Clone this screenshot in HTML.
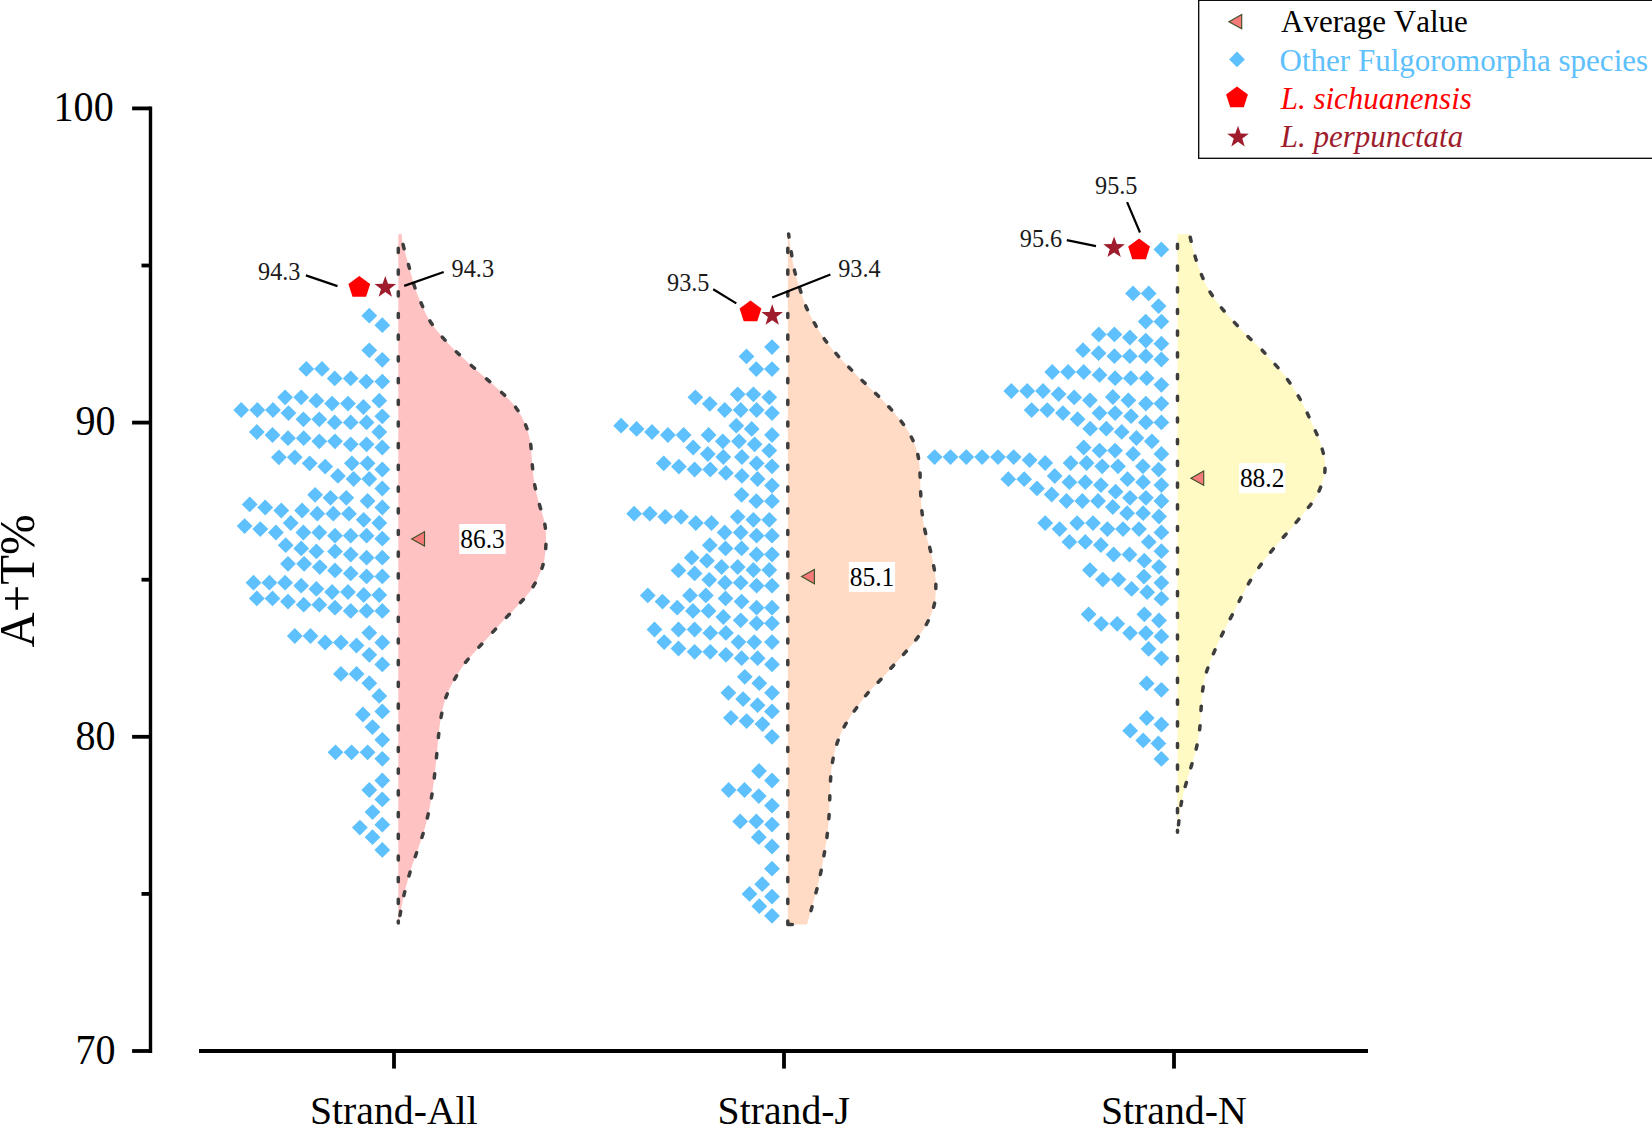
<!DOCTYPE html>
<html lang="en"><head><meta charset="utf-8"><title>A+T% content by strand</title>
<style>html,body{margin:0;padding:0;background:#fff}body{width:1652px;height:1124px;overflow:hidden}svg{display:block}text{font-family:'Liberation Serif', serif;font-kerning:none}</style>
</head><body>
<svg width="1652" height="1124" viewBox="0 0 1652 1124">
<rect width="1652" height="1124" fill="#fff"/>
<path d="M401.9 234.3C402 235.8 401.5 237.8 402.7 243.1C403.9 248.4 406.9 258.9 408.9 266.2C410.9 273.5 412.6 280.8 414.7 287C416.8 293.2 418.8 297.8 421.2 303.2C423.6 308.6 425.8 314.1 429 319.4C432.2 324.7 436.4 330 440.6 335.1C444.9 340.2 449.6 345.2 454.5 350C459.4 354.8 464.6 359.4 469.7 364C474.8 368.6 480.1 373.2 485.2 377.7C490.3 382.2 495.3 386.4 500.2 391.1C505.1 395.8 510.7 400.7 514.8 406.1C518.9 411.5 522.4 417.5 525 423.5C527.6 429.5 529.1 435.4 530.3 442C531.5 448.6 531.4 456 532.1 463C532.8 470 533.3 476.9 534.5 483.9C535.7 490.8 537.9 498.5 539.5 504.7C541.1 510.9 543.1 515.5 544.2 520.9C545.3 526.3 545.9 530.9 546 537.1C546.1 543.3 545.8 551.5 544.6 557.9C543.5 564.3 541.7 569.5 539.1 575.3C536.5 581.1 532.9 587.3 529.1 592.6C525.3 597.9 520.8 602.1 516.4 606.9C512 611.7 506.9 616.8 502.5 621.5C498.1 626.2 494.2 630.6 489.8 635.4C485.4 640.2 480.4 645.4 476 650.4C471.6 655.4 467.1 660 463.2 665.4C459.3 670.8 455.7 677.1 452.8 682.6C449.9 688.1 447.5 692.7 445.6 698.2C443.7 703.7 442.5 709.8 441.3 715.8C440.1 721.8 439.4 728.1 438.7 734.3C438 740.5 437.5 746.6 436.9 752.8C436.3 759 435.7 765.3 435 771.3C434.3 777.3 433.8 782.9 432.9 788.7C432 794.5 431 800.2 429.9 806C428.8 811.8 427.4 817.8 426 823.4C424.6 829 423 834 421.2 839.5C419.4 845 417.2 850.8 415.4 856.2C413.5 861.6 411.8 866.4 410.1 871.9C408.4 877.4 406.8 883.8 405.4 889.2C404 894.6 403.2 898.4 402 904.3C400.8 910.2 399 921.1 398.4 924.5L398.3 924.5L398.3 234.3Z" fill="#ffc2c2"/>
<path d="M788.6 234C789 237.1 790.3 246.5 791.3 252.4C792.2 258.4 792.9 263.9 794.3 269.7C795.6 275.5 797.6 281.3 799.4 287.1C801.2 292.9 802.8 298.8 805.1 304.4C807.4 310 810.1 315.4 813.2 321C816.3 326.6 819.8 332.5 823.6 337.9C827.4 343.3 831.6 348.5 835.9 353.4C840.1 358.3 844.6 362.9 849.1 367.5C853.6 372.1 858.3 376.7 862.9 381.2C867.5 385.7 872.2 390 876.8 394.6C881.4 399.2 886.2 403.9 890.7 408.9C895.2 413.9 899.9 419.4 903.6 424.6C907.3 429.9 910.7 435.5 913 440.4C915.3 445.2 916.5 449 917.6 453.7C918.7 458.4 919.2 463 919.7 468.8C920.2 474.6 920.2 481.8 920.5 488.6C920.8 495.4 921 502.5 921.7 509.4C922.4 516.3 923.5 523.7 924.9 530.2C926.3 536.8 928.5 542.7 930 548.7C931.5 554.7 932.7 560.4 933.7 566C934.7 571.6 935.6 576 935.8 582.2C935.9 588.4 935.9 596.5 934.6 603C933.3 609.5 930.8 615.7 927.9 621.5C925 627.3 921.4 632.4 917.5 637.7C913.6 643 909 648.2 904.6 653.2C900.2 658.2 895.7 663 891.4 667.7C887.1 672.5 882.5 677.7 878.7 681.7C874.9 685.8 872.4 687.7 868.7 692C865 696.3 860.5 702.4 856.7 707.7C852.9 713 848.9 718.5 845.8 723.9C842.7 729.3 840.2 734.7 838.2 740.1C836.2 745.5 834.8 750.7 833.6 756.3C832.4 761.9 831.6 767.2 831 773.6C830.4 780 830.2 787.4 829.9 794.5C829.6 801.6 829.5 809.3 829 816.4C828.5 823.5 827.7 831 826.9 837.2C826.1 843.4 825.3 847.6 824.3 853.4C823.3 859.2 822.2 865.8 820.9 871.9C819.6 878 818.2 884.1 816.7 889.9C815.2 895.7 813.7 900.8 812.1 906.6C810.5 912.4 807.9 921.6 807 924.6L787.8 924.6L787.8 234Z" fill="#ffdac5"/>
<path d="M1190 234.3C1190.1 235 1189.7 235.1 1190.5 238.5C1191.3 241.9 1192.9 249.1 1194.6 254.7C1196.2 260.3 1198.2 266.4 1200.4 272C1202.6 277.6 1204.8 282.8 1207.8 288.2C1210.8 293.6 1214.7 299.1 1218.7 304.4C1222.8 309.7 1227.4 314.7 1232.1 319.9C1236.8 325.1 1242.3 330.8 1247.1 335.6C1251.9 340.5 1257.3 345.3 1261 349C1264.7 352.7 1265.5 354.1 1269.1 358C1272.6 361.9 1278.2 367.5 1282.3 372.6C1286.4 377.7 1290.3 383.4 1293.8 388.8C1297.3 394.2 1300.4 399.5 1303.3 405C1306.2 410.5 1308.6 416.1 1311.2 421.8C1313.8 427.6 1316.8 433.7 1319 439.5C1321.2 445.3 1323.1 452.1 1324.1 456.6C1325.1 461.1 1325 463.2 1325 466.6C1325 470 1325.2 472 1323.9 476.8C1322.6 481.6 1320.1 489.7 1316.9 495.5C1313.7 501.3 1309.1 506.3 1304.9 511.7C1300.7 517.1 1296 522.6 1291.5 527.9C1287 533.2 1282.3 538.2 1277.9 543.4C1273.5 548.6 1269.1 553.9 1265.1 559.1C1261.1 564.3 1257.6 569 1254 574.6C1250.4 580.2 1246.8 586.7 1243.6 592.6C1240.4 598.5 1237.8 604.3 1234.9 609.9C1232 615.5 1229 620.7 1226.3 626.1C1223.5 631.5 1220.9 636.8 1218.4 642.3C1215.9 647.8 1213.4 653.6 1211.3 659C1209.2 664.4 1207.2 669.2 1205.7 674.5C1204.2 679.8 1203.4 685 1202.6 690.7C1201.8 696.4 1201.5 702.5 1201.1 708.6C1200.6 714.7 1200.6 720.8 1199.9 727.1C1199.2 733.5 1198 740.7 1196.7 746.7C1195.4 752.8 1193.7 757.8 1192.1 763.4C1190.5 769 1188.6 774.5 1187 780.2C1185.4 785.9 1183.6 791.9 1182.4 797.6C1181.2 803.3 1180.4 808.1 1179.6 814.5C1178.8 820.9 1177.8 832.2 1177.5 835.7L1177.5 835.7L1177.5 234.3Z" fill="#fff9c4"/>
<path d="M398.3 923.1L398.3 243.3" fill="none" stroke="#3d3d3d" stroke-width="3.5" stroke-linecap="round" stroke-dasharray="4.2 17.5" stroke-dashoffset="2.1"/>
<path d="M401.9 234.3C402 235.8 401.5 237.8 402.7 243.1C403.9 248.4 406.9 258.9 408.9 266.2C410.9 273.5 412.6 280.8 414.7 287C416.8 293.2 418.8 297.8 421.2 303.2C423.6 308.6 425.8 314.1 429 319.4C432.2 324.7 436.4 330 440.6 335.1C444.9 340.2 449.6 345.2 454.5 350C459.4 354.8 464.6 359.4 469.7 364C474.8 368.6 480.1 373.2 485.2 377.7C490.3 382.2 495.3 386.4 500.2 391.1C505.1 395.8 510.7 400.7 514.8 406.1C518.9 411.5 522.4 417.5 525 423.5C527.6 429.5 529.1 435.4 530.3 442C531.5 448.6 531.4 456 532.1 463C532.8 470 533.3 476.9 534.5 483.9C535.7 490.8 537.9 498.5 539.5 504.7C541.1 510.9 543.1 515.5 544.2 520.9C545.3 526.3 545.9 530.9 546 537.1C546.1 543.3 545.8 551.5 544.6 557.9C543.5 564.3 541.7 569.5 539.1 575.3C536.5 581.1 532.9 587.3 529.1 592.6C525.3 597.9 520.8 602.1 516.4 606.9C512 611.7 506.9 616.8 502.5 621.5C498.1 626.2 494.2 630.6 489.8 635.4C485.4 640.2 480.4 645.4 476 650.4C471.6 655.4 467.1 660 463.2 665.4C459.3 670.8 455.7 677.1 452.8 682.6C449.9 688.1 447.5 692.7 445.6 698.2C443.7 703.7 442.5 709.8 441.3 715.8C440.1 721.8 439.4 728.1 438.7 734.3C438 740.5 437.5 746.6 436.9 752.8C436.3 759 435.7 765.3 435 771.3C434.3 777.3 433.8 782.9 432.9 788.7C432 794.5 431 800.2 429.9 806C428.8 811.8 427.4 817.8 426 823.4C424.6 829 423 834 421.2 839.5C419.4 845 417.2 850.8 415.4 856.2C413.5 861.6 411.8 866.4 410.1 871.9C408.4 877.4 406.8 883.8 405.4 889.2C404 894.6 403.2 898.4 402 904.3C400.8 910.2 399 921.1 398.4 924.5" fill="none" stroke="#3d3d3d" stroke-width="3.5" stroke-linecap="round" stroke-dasharray="4.2 16.1" stroke-dashoffset="-10.5"/>
<path d="M787.8 923.1L787.8 243" fill="none" stroke="#3d3d3d" stroke-width="3.5" stroke-linecap="round" stroke-dasharray="4.2 17.5" stroke-dashoffset="2.1"/>
<path d="M788.6 234C789 237.1 790.3 246.5 791.3 252.4C792.2 258.4 792.9 263.9 794.3 269.7C795.6 275.5 797.6 281.3 799.4 287.1C801.2 292.9 802.8 298.8 805.1 304.4C807.4 310 810.1 315.4 813.2 321C816.3 326.6 819.8 332.5 823.6 337.9C827.4 343.3 831.6 348.5 835.9 353.4C840.1 358.3 844.6 362.9 849.1 367.5C853.6 372.1 858.3 376.7 862.9 381.2C867.5 385.7 872.2 390 876.8 394.6C881.4 399.2 886.2 403.9 890.7 408.9C895.2 413.9 899.9 419.4 903.6 424.6C907.3 429.9 910.7 435.5 913 440.4C915.3 445.2 916.5 449 917.6 453.7C918.7 458.4 919.2 463 919.7 468.8C920.2 474.6 920.2 481.8 920.5 488.6C920.8 495.4 921 502.5 921.7 509.4C922.4 516.3 923.5 523.7 924.9 530.2C926.3 536.8 928.5 542.7 930 548.7C931.5 554.7 932.7 560.4 933.7 566C934.7 571.6 935.6 576 935.8 582.2C935.9 588.4 935.9 596.5 934.6 603C933.3 609.5 930.8 615.7 927.9 621.5C925 627.3 921.4 632.4 917.5 637.7C913.6 643 909 648.2 904.6 653.2C900.2 658.2 895.7 663 891.4 667.7C887.1 672.5 882.5 677.7 878.7 681.7C874.9 685.8 872.4 687.7 868.7 692C865 696.3 860.5 702.4 856.7 707.7C852.9 713 848.9 718.5 845.8 723.9C842.7 729.3 840.2 734.7 838.2 740.1C836.2 745.5 834.8 750.7 833.6 756.3C832.4 761.9 831.6 767.2 831 773.6C830.4 780 830.2 787.4 829.9 794.5C829.6 801.6 829.5 809.3 829 816.4C828.5 823.5 827.7 831 826.9 837.2C826.1 843.4 825.3 847.6 824.3 853.4C823.3 859.2 822.2 865.8 820.9 871.9C819.6 878 818.2 884.1 816.7 889.9C815.2 895.7 813.7 900.8 812.1 906.6C810.5 912.4 807.9 921.6 807 924.6" fill="none" stroke="#3d3d3d" stroke-width="3.5" stroke-linecap="round" stroke-dasharray="4.2 14.6" stroke-dashoffset="1"/>
<path d="M1177.5 832.3L1177.5 243.3" fill="none" stroke="#3d3d3d" stroke-width="3.5" stroke-linecap="round" stroke-dasharray="4.2 17.5" stroke-dashoffset="2.1"/>
<path d="M1190 234.3C1190.1 235 1189.7 235.1 1190.5 238.5C1191.3 241.9 1192.9 249.1 1194.6 254.7C1196.2 260.3 1198.2 266.4 1200.4 272C1202.6 277.6 1204.8 282.8 1207.8 288.2C1210.8 293.6 1214.7 299.1 1218.7 304.4C1222.8 309.7 1227.4 314.7 1232.1 319.9C1236.8 325.1 1242.3 330.8 1247.1 335.6C1251.9 340.5 1257.3 345.3 1261 349C1264.7 352.7 1265.5 354.1 1269.1 358C1272.6 361.9 1278.2 367.5 1282.3 372.6C1286.4 377.7 1290.3 383.4 1293.8 388.8C1297.3 394.2 1300.4 399.5 1303.3 405C1306.2 410.5 1308.6 416.1 1311.2 421.8C1313.8 427.6 1316.8 433.7 1319 439.5C1321.2 445.3 1323.1 452.1 1324.1 456.6C1325.1 461.1 1325 463.2 1325 466.6C1325 470 1325.2 472 1323.9 476.8C1322.6 481.6 1320.1 489.7 1316.9 495.5C1313.7 501.3 1309.1 506.3 1304.9 511.7C1300.7 517.1 1296 522.6 1291.5 527.9C1287 533.2 1282.3 538.2 1277.9 543.4C1273.5 548.6 1269.1 553.9 1265.1 559.1C1261.1 564.3 1257.6 569 1254 574.6C1250.4 580.2 1246.8 586.7 1243.6 592.6C1240.4 598.5 1237.8 604.3 1234.9 609.9C1232 615.5 1229 620.7 1226.3 626.1C1223.5 631.5 1220.9 636.8 1218.4 642.3C1215.9 647.8 1213.4 653.6 1211.3 659C1209.2 664.4 1207.2 669.2 1205.7 674.5C1204.2 679.8 1203.4 685 1202.6 690.7C1201.8 696.4 1201.5 702.5 1201.1 708.6C1200.6 714.7 1200.6 720.8 1199.9 727.1C1199.2 733.5 1198 740.7 1196.7 746.7C1195.4 752.8 1193.7 757.8 1192.1 763.4C1190.5 769 1188.6 774.5 1187 780.2C1185.4 785.9 1183.6 791.9 1182.4 797.6C1181.2 803.3 1180.4 808.1 1179.6 814.5C1178.8 820.9 1177.8 832.2 1177.5 835.7" fill="none" stroke="#3d3d3d" stroke-width="3.5" stroke-linecap="round" stroke-dasharray="4.2 15.3" stroke-dashoffset="-3"/>
<path d="M787.8 924.6h4.5" fill="none" stroke="#3d3d3d" stroke-width="3.5" stroke-linecap="round"/>
<path d="M369.3 307.8l7.9 7.9l-7.9 7.9l-7.9 -7.9zM382.3 317.3l7.9 7.9l-7.9 7.9l-7.9 -7.9zM369.3 342.4l7.9 7.9l-7.9 7.9l-7.9 -7.9zM382.3 351.9l7.9 7.9l-7.9 7.9l-7.9 -7.9zM306.3 361l7.9 7.9l-7.9 7.9l-7.9 -7.9zM322 361l7.9 7.9l-7.9 7.9l-7.9 -7.9zM334.7 370.5l7.9 7.9l-7.9 7.9l-7.9 -7.9zM350.7 370.5l7.9 7.9l-7.9 7.9l-7.9 -7.9zM366.3 373.7l7.9 7.9l-7.9 7.9l-7.9 -7.9zM382.3 373.7l7.9 7.9l-7.9 7.9l-7.9 -7.9zM285.1 389.4l7.9 7.9l-7.9 7.9l-7.9 -7.9zM301.2 389.4l7.9 7.9l-7.9 7.9l-7.9 -7.9zM316.4 392.8l7.9 7.9l-7.9 7.9l-7.9 -7.9zM332.1 395.7l7.9 7.9l-7.9 7.9l-7.9 -7.9zM348 395.7l7.9 7.9l-7.9 7.9l-7.9 -7.9zM363.4 399.1l7.9 7.9l-7.9 7.9l-7.9 -7.9zM379.3 392.8l7.9 7.9l-7.9 7.9l-7.9 -7.9zM241.2 402.1l7.9 7.9l-7.9 7.9l-7.9 -7.9zM257.3 402.1l7.9 7.9l-7.9 7.9l-7.9 -7.9zM273 402.1l7.9 7.9l-7.9 7.9l-7.9 -7.9zM288.5 405.2l7.9 7.9l-7.9 7.9l-7.9 -7.9zM303.4 411.4l7.9 7.9l-7.9 7.9l-7.9 -7.9zM319.3 411.4l7.9 7.9l-7.9 7.9l-7.9 -7.9zM334.7 414.5l7.9 7.9l-7.9 7.9l-7.9 -7.9zM350.7 414.5l7.9 7.9l-7.9 7.9l-7.9 -7.9zM366.6 414.5l7.9 7.9l-7.9 7.9l-7.9 -7.9zM382.3 408.4l7.9 7.9l-7.9 7.9l-7.9 -7.9zM256.8 424.1l7.9 7.9l-7.9 7.9l-7.9 -7.9zM272.5 427.1l7.9 7.9l-7.9 7.9l-7.9 -7.9zM288 430.3l7.9 7.9l-7.9 7.9l-7.9 -7.9zM303.7 430.3l7.9 7.9l-7.9 7.9l-7.9 -7.9zM319.3 433.4l7.9 7.9l-7.9 7.9l-7.9 -7.9zM335 433.4l7.9 7.9l-7.9 7.9l-7.9 -7.9zM350.7 436.4l7.9 7.9l-7.9 7.9l-7.9 -7.9zM366.6 436.4l7.9 7.9l-7.9 7.9l-7.9 -7.9zM379.3 424.1l7.9 7.9l-7.9 7.9l-7.9 -7.9zM382.3 439.6l7.9 7.9l-7.9 7.9l-7.9 -7.9zM278.9 449.4l7.9 7.9l-7.9 7.9l-7.9 -7.9zM294.8 449.4l7.9 7.9l-7.9 7.9l-7.9 -7.9zM309.7 455.4l7.9 7.9l-7.9 7.9l-7.9 -7.9zM325.2 458.7l7.9 7.9l-7.9 7.9l-7.9 -7.9zM351.9 455.4l7.9 7.9l-7.9 7.9l-7.9 -7.9zM367.6 455.4l7.9 7.9l-7.9 7.9l-7.9 -7.9zM382.3 461.6l7.9 7.9l-7.9 7.9l-7.9 -7.9zM337.9 468l7.9 7.9l-7.9 7.9l-7.9 -7.9zM353.6 471.1l7.9 7.9l-7.9 7.9l-7.9 -7.9zM369.3 471.1l7.9 7.9l-7.9 7.9l-7.9 -7.9zM382.3 480.6l7.9 7.9l-7.9 7.9l-7.9 -7.9zM315.1 486.9l7.9 7.9l-7.9 7.9l-7.9 -7.9zM330.5 489.9l7.9 7.9l-7.9 7.9l-7.9 -7.9zM346.3 489.9l7.9 7.9l-7.9 7.9l-7.9 -7.9zM367.6 493.1l7.9 7.9l-7.9 7.9l-7.9 -7.9zM382.3 499.6l7.9 7.9l-7.9 7.9l-7.9 -7.9zM249.7 496.5l7.9 7.9l-7.9 7.9l-7.9 -7.9zM265.2 499.6l7.9 7.9l-7.9 7.9l-7.9 -7.9zM281.3 502.6l7.9 7.9l-7.9 7.9l-7.9 -7.9zM302.1 502.6l7.9 7.9l-7.9 7.9l-7.9 -7.9zM317.3 505.8l7.9 7.9l-7.9 7.9l-7.9 -7.9zM333.3 505.8l7.9 7.9l-7.9 7.9l-7.9 -7.9zM349 505.8l7.9 7.9l-7.9 7.9l-7.9 -7.9zM363.7 511.9l7.9 7.9l-7.9 7.9l-7.9 -7.9zM379.3 515.1l7.9 7.9l-7.9 7.9l-7.9 -7.9zM244.6 518.2l7.9 7.9l-7.9 7.9l-7.9 -7.9zM260.3 521.2l7.9 7.9l-7.9 7.9l-7.9 -7.9zM275.9 524.6l7.9 7.9l-7.9 7.9l-7.9 -7.9zM290.7 515.1l7.9 7.9l-7.9 7.9l-7.9 -7.9zM303.4 524.6l7.9 7.9l-7.9 7.9l-7.9 -7.9zM319.3 524.6l7.9 7.9l-7.9 7.9l-7.9 -7.9zM335 527.8l7.9 7.9l-7.9 7.9l-7.9 -7.9zM350.7 527.8l7.9 7.9l-7.9 7.9l-7.9 -7.9zM366.6 527.8l7.9 7.9l-7.9 7.9l-7.9 -7.9zM382.3 530.8l7.9 7.9l-7.9 7.9l-7.9 -7.9zM285.7 537.3l7.9 7.9l-7.9 7.9l-7.9 -7.9zM301.2 540.5l7.9 7.9l-7.9 7.9l-7.9 -7.9zM316.4 543.5l7.9 7.9l-7.9 7.9l-7.9 -7.9zM335 543.5l7.9 7.9l-7.9 7.9l-7.9 -7.9zM350.7 546.6l7.9 7.9l-7.9 7.9l-7.9 -7.9zM366.6 549.8l7.9 7.9l-7.9 7.9l-7.9 -7.9zM382.3 549.8l7.9 7.9l-7.9 7.9l-7.9 -7.9zM288 555.9l7.9 7.9l-7.9 7.9l-7.9 -7.9zM304.1 555.9l7.9 7.9l-7.9 7.9l-7.9 -7.9zM319.8 559.2l7.9 7.9l-7.9 7.9l-7.9 -7.9zM335 562.5l7.9 7.9l-7.9 7.9l-7.9 -7.9zM350.7 565.5l7.9 7.9l-7.9 7.9l-7.9 -7.9zM366.6 568.5l7.9 7.9l-7.9 7.9l-7.9 -7.9zM382.3 568.5l7.9 7.9l-7.9 7.9l-7.9 -7.9zM253.5 574.8l7.9 7.9l-7.9 7.9l-7.9 -7.9zM269.4 574.8l7.9 7.9l-7.9 7.9l-7.9 -7.9zM285.1 574.8l7.9 7.9l-7.9 7.9l-7.9 -7.9zM301.2 577.8l7.9 7.9l-7.9 7.9l-7.9 -7.9zM316.4 581l7.9 7.9l-7.9 7.9l-7.9 -7.9zM332.1 584.1l7.9 7.9l-7.9 7.9l-7.9 -7.9zM348 584.1l7.9 7.9l-7.9 7.9l-7.9 -7.9zM363.7 587.1l7.9 7.9l-7.9 7.9l-7.9 -7.9zM379.3 587.1l7.9 7.9l-7.9 7.9l-7.9 -7.9zM256.8 590.5l7.9 7.9l-7.9 7.9l-7.9 -7.9zM272.5 590.5l7.9 7.9l-7.9 7.9l-7.9 -7.9zM288 593.7l7.9 7.9l-7.9 7.9l-7.9 -7.9zM303.7 596.8l7.9 7.9l-7.9 7.9l-7.9 -7.9zM319.3 596.8l7.9 7.9l-7.9 7.9l-7.9 -7.9zM335 599.8l7.9 7.9l-7.9 7.9l-7.9 -7.9zM350.7 603l7.9 7.9l-7.9 7.9l-7.9 -7.9zM366.6 603l7.9 7.9l-7.9 7.9l-7.9 -7.9zM382.3 603l7.9 7.9l-7.9 7.9l-7.9 -7.9zM294.8 628.1l7.9 7.9l-7.9 7.9l-7.9 -7.9zM310.5 628.1l7.9 7.9l-7.9 7.9l-7.9 -7.9zM369.3 624.9l7.9 7.9l-7.9 7.9l-7.9 -7.9zM325.2 634.6l7.9 7.9l-7.9 7.9l-7.9 -7.9zM340.9 634.6l7.9 7.9l-7.9 7.9l-7.9 -7.9zM356.5 637.6l7.9 7.9l-7.9 7.9l-7.9 -7.9zM382.3 634.6l7.9 7.9l-7.9 7.9l-7.9 -7.9zM369.3 646.9l7.9 7.9l-7.9 7.9l-7.9 -7.9zM382.3 656.5l7.9 7.9l-7.9 7.9l-7.9 -7.9zM340.9 666l7.9 7.9l-7.9 7.9l-7.9 -7.9zM356.6 666l7.9 7.9l-7.9 7.9l-7.9 -7.9zM369.3 675.3l7.9 7.9l-7.9 7.9l-7.9 -7.9zM379.3 688l7.9 7.9l-7.9 7.9l-7.9 -7.9zM382.3 703.5l7.9 7.9l-7.9 7.9l-7.9 -7.9zM362.9 706.6l7.9 7.9l-7.9 7.9l-7.9 -7.9zM372.5 719.2l7.9 7.9l-7.9 7.9l-7.9 -7.9zM382.3 731.9l7.9 7.9l-7.9 7.9l-7.9 -7.9zM335.5 744.4l7.9 7.9l-7.9 7.9l-7.9 -7.9zM351.6 744.4l7.9 7.9l-7.9 7.9l-7.9 -7.9zM367.6 744.4l7.9 7.9l-7.9 7.9l-7.9 -7.9zM382.3 750.9l7.9 7.9l-7.9 7.9l-7.9 -7.9zM382.3 772.6l7.9 7.9l-7.9 7.9l-7.9 -7.9zM369.3 782.1l7.9 7.9l-7.9 7.9l-7.9 -7.9zM382.3 791.5l7.9 7.9l-7.9 7.9l-7.9 -7.9zM372.5 804.2l7.9 7.9l-7.9 7.9l-7.9 -7.9zM382.3 816.8l7.9 7.9l-7.9 7.9l-7.9 -7.9zM359.9 819.7l7.9 7.9l-7.9 7.9l-7.9 -7.9zM372.5 829.3l7.9 7.9l-7.9 7.9l-7.9 -7.9zM382.3 842l7.9 7.9l-7.9 7.9l-7.9 -7.9z" fill="#5ec0fc"/>
<path d="M772 339.2l7.9 7.9l-7.9 7.9l-7.9 -7.9zM746.5 348.5l7.9 7.9l-7.9 7.9l-7.9 -7.9zM756.3 361.2l7.9 7.9l-7.9 7.9l-7.9 -7.9zM772 361.2l7.9 7.9l-7.9 7.9l-7.9 -7.9zM695.4 389.4l7.9 7.9l-7.9 7.9l-7.9 -7.9zM709.8 395.9l7.9 7.9l-7.9 7.9l-7.9 -7.9zM724.7 402.1l7.9 7.9l-7.9 7.9l-7.9 -7.9zM737.7 386.4l7.9 7.9l-7.9 7.9l-7.9 -7.9zM753.4 386.4l7.9 7.9l-7.9 7.9l-7.9 -7.9zM769.3 389.4l7.9 7.9l-7.9 7.9l-7.9 -7.9zM740.7 402.1l7.9 7.9l-7.9 7.9l-7.9 -7.9zM756.6 402.1l7.9 7.9l-7.9 7.9l-7.9 -7.9zM772 405.2l7.9 7.9l-7.9 7.9l-7.9 -7.9zM621.1 417.8l7.9 7.9l-7.9 7.9l-7.9 -7.9zM636.6 421l7.9 7.9l-7.9 7.9l-7.9 -7.9zM652 424.1l7.9 7.9l-7.9 7.9l-7.9 -7.9zM667.9 427.1l7.9 7.9l-7.9 7.9l-7.9 -7.9zM683.6 427.1l7.9 7.9l-7.9 7.9l-7.9 -7.9zM708.6 427.1l7.9 7.9l-7.9 7.9l-7.9 -7.9zM736.3 417.8l7.9 7.9l-7.9 7.9l-7.9 -7.9zM751.7 421l7.9 7.9l-7.9 7.9l-7.9 -7.9zM772 427.1l7.9 7.9l-7.9 7.9l-7.9 -7.9zM722.8 433.4l7.9 7.9l-7.9 7.9l-7.9 -7.9zM739 433.4l7.9 7.9l-7.9 7.9l-7.9 -7.9zM754.6 436.4l7.9 7.9l-7.9 7.9l-7.9 -7.9zM769.3 442.7l7.9 7.9l-7.9 7.9l-7.9 -7.9zM693.2 439.6l7.9 7.9l-7.9 7.9l-7.9 -7.9zM707.8 446.1l7.9 7.9l-7.9 7.9l-7.9 -7.9zM723.3 449.1l7.9 7.9l-7.9 7.9l-7.9 -7.9zM741.9 449.1l7.9 7.9l-7.9 7.9l-7.9 -7.9zM756.6 455.4l7.9 7.9l-7.9 7.9l-7.9 -7.9zM772 458.4l7.9 7.9l-7.9 7.9l-7.9 -7.9zM663.7 455.4l7.9 7.9l-7.9 7.9l-7.9 -7.9zM678.9 458.7l7.9 7.9l-7.9 7.9l-7.9 -7.9zM694.6 461.6l7.9 7.9l-7.9 7.9l-7.9 -7.9zM710.3 461.6l7.9 7.9l-7.9 7.9l-7.9 -7.9zM725.9 465l7.9 7.9l-7.9 7.9l-7.9 -7.9zM741.9 468l7.9 7.9l-7.9 7.9l-7.9 -7.9zM757.6 471.1l7.9 7.9l-7.9 7.9l-7.9 -7.9zM772 477.6l7.9 7.9l-7.9 7.9l-7.9 -7.9zM741.6 486.9l7.9 7.9l-7.9 7.9l-7.9 -7.9zM756.3 493.3l7.9 7.9l-7.9 7.9l-7.9 -7.9zM772 493.3l7.9 7.9l-7.9 7.9l-7.9 -7.9zM634.1 505.8l7.9 7.9l-7.9 7.9l-7.9 -7.9zM649.8 505.8l7.9 7.9l-7.9 7.9l-7.9 -7.9zM665.3 508.9l7.9 7.9l-7.9 7.9l-7.9 -7.9zM681.1 508.9l7.9 7.9l-7.9 7.9l-7.9 -7.9zM695.8 515.1l7.9 7.9l-7.9 7.9l-7.9 -7.9zM711.5 515.1l7.9 7.9l-7.9 7.9l-7.9 -7.9zM737.7 508.9l7.9 7.9l-7.9 7.9l-7.9 -7.9zM753.4 511.9l7.9 7.9l-7.9 7.9l-7.9 -7.9zM769.3 511.9l7.9 7.9l-7.9 7.9l-7.9 -7.9zM724.7 524.6l7.9 7.9l-7.9 7.9l-7.9 -7.9zM740.7 524.6l7.9 7.9l-7.9 7.9l-7.9 -7.9zM756.6 527.8l7.9 7.9l-7.9 7.9l-7.9 -7.9zM772 527.8l7.9 7.9l-7.9 7.9l-7.9 -7.9zM709.8 537.3l7.9 7.9l-7.9 7.9l-7.9 -7.9zM725.5 540.5l7.9 7.9l-7.9 7.9l-7.9 -7.9zM741.6 540.5l7.9 7.9l-7.9 7.9l-7.9 -7.9zM756.6 546.6l7.9 7.9l-7.9 7.9l-7.9 -7.9zM772 546.6l7.9 7.9l-7.9 7.9l-7.9 -7.9zM691.7 549.8l7.9 7.9l-7.9 7.9l-7.9 -7.9zM706.9 552.8l7.9 7.9l-7.9 7.9l-7.9 -7.9zM721.6 559.1l7.9 7.9l-7.9 7.9l-7.9 -7.9zM737.7 559.1l7.9 7.9l-7.9 7.9l-7.9 -7.9zM753.4 562.1l7.9 7.9l-7.9 7.9l-7.9 -7.9zM769.3 562.1l7.9 7.9l-7.9 7.9l-7.9 -7.9zM678.5 562.5l7.9 7.9l-7.9 7.9l-7.9 -7.9zM694.6 565.5l7.9 7.9l-7.9 7.9l-7.9 -7.9zM709.3 571.9l7.9 7.9l-7.9 7.9l-7.9 -7.9zM725 574.8l7.9 7.9l-7.9 7.9l-7.9 -7.9zM740.7 574.8l7.9 7.9l-7.9 7.9l-7.9 -7.9zM756.6 577.8l7.9 7.9l-7.9 7.9l-7.9 -7.9zM772 577.8l7.9 7.9l-7.9 7.9l-7.9 -7.9zM647.8 587.5l7.9 7.9l-7.9 7.9l-7.9 -7.9zM662.5 593.7l7.9 7.9l-7.9 7.9l-7.9 -7.9zM677.2 599.8l7.9 7.9l-7.9 7.9l-7.9 -7.9zM690 587.5l7.9 7.9l-7.9 7.9l-7.9 -7.9zM705.9 587.5l7.9 7.9l-7.9 7.9l-7.9 -7.9zM725.5 590.5l7.9 7.9l-7.9 7.9l-7.9 -7.9zM741.6 593.7l7.9 7.9l-7.9 7.9l-7.9 -7.9zM756.6 599.8l7.9 7.9l-7.9 7.9l-7.9 -7.9zM772 599.8l7.9 7.9l-7.9 7.9l-7.9 -7.9zM692.9 603l7.9 7.9l-7.9 7.9l-7.9 -7.9zM708.6 603l7.9 7.9l-7.9 7.9l-7.9 -7.9zM723.3 609.1l7.9 7.9l-7.9 7.9l-7.9 -7.9zM740.7 612.4l7.9 7.9l-7.9 7.9l-7.9 -7.9zM756.6 615.4l7.9 7.9l-7.9 7.9l-7.9 -7.9zM772 615.4l7.9 7.9l-7.9 7.9l-7.9 -7.9zM654.5 621.6l7.9 7.9l-7.9 7.9l-7.9 -7.9zM678.5 621.6l7.9 7.9l-7.9 7.9l-7.9 -7.9zM694.6 621.6l7.9 7.9l-7.9 7.9l-7.9 -7.9zM710.3 625l7.9 7.9l-7.9 7.9l-7.9 -7.9zM725.9 625l7.9 7.9l-7.9 7.9l-7.9 -7.9zM738.5 634.2l7.9 7.9l-7.9 7.9l-7.9 -7.9zM754.3 634.2l7.9 7.9l-7.9 7.9l-7.9 -7.9zM772 634.2l7.9 7.9l-7.9 7.9l-7.9 -7.9zM664.2 634.2l7.9 7.9l-7.9 7.9l-7.9 -7.9zM678.5 640.6l7.9 7.9l-7.9 7.9l-7.9 -7.9zM694.6 643.9l7.9 7.9l-7.9 7.9l-7.9 -7.9zM710.3 643.9l7.9 7.9l-7.9 7.9l-7.9 -7.9zM725.9 646.9l7.9 7.9l-7.9 7.9l-7.9 -7.9zM741.6 650.3l7.9 7.9l-7.9 7.9l-7.9 -7.9zM757.6 650.3l7.9 7.9l-7.9 7.9l-7.9 -7.9zM772 656.5l7.9 7.9l-7.9 7.9l-7.9 -7.9zM744.8 668.9l7.9 7.9l-7.9 7.9l-7.9 -7.9zM759.3 675.3l7.9 7.9l-7.9 7.9l-7.9 -7.9zM772 684.9l7.9 7.9l-7.9 7.9l-7.9 -7.9zM728.4 684.9l7.9 7.9l-7.9 7.9l-7.9 -7.9zM743.1 691.2l7.9 7.9l-7.9 7.9l-7.9 -7.9zM757.6 697.3l7.9 7.9l-7.9 7.9l-7.9 -7.9zM772 703.5l7.9 7.9l-7.9 7.9l-7.9 -7.9zM730.9 709.9l7.9 7.9l-7.9 7.9l-7.9 -7.9zM746.6 713.2l7.9 7.9l-7.9 7.9l-7.9 -7.9zM762.5 716.2l7.9 7.9l-7.9 7.9l-7.9 -7.9zM772 728.9l7.9 7.9l-7.9 7.9l-7.9 -7.9zM759 763.1l7.9 7.9l-7.9 7.9l-7.9 -7.9zM772 772.6l7.9 7.9l-7.9 7.9l-7.9 -7.9zM728.7 782.1l7.9 7.9l-7.9 7.9l-7.9 -7.9zM744.5 782.1l7.9 7.9l-7.9 7.9l-7.9 -7.9zM758.8 788.2l7.9 7.9l-7.9 7.9l-7.9 -7.9zM772 797.7l7.9 7.9l-7.9 7.9l-7.9 -7.9zM740.2 813.5l7.9 7.9l-7.9 7.9l-7.9 -7.9zM756.3 813.5l7.9 7.9l-7.9 7.9l-7.9 -7.9zM772 816.7l7.9 7.9l-7.9 7.9l-7.9 -7.9zM758.8 829.3l7.9 7.9l-7.9 7.9l-7.9 -7.9zM772 838.6l7.9 7.9l-7.9 7.9l-7.9 -7.9zM772 860.8l7.9 7.9l-7.9 7.9l-7.9 -7.9zM762.2 876.3l7.9 7.9l-7.9 7.9l-7.9 -7.9zM749.5 886l7.9 7.9l-7.9 7.9l-7.9 -7.9zM772 888.7l7.9 7.9l-7.9 7.9l-7.9 -7.9zM759.3 898.3l7.9 7.9l-7.9 7.9l-7.9 -7.9zM772 907.9l7.9 7.9l-7.9 7.9l-7.9 -7.9z" fill="#5ec0fc"/>
<path d="M1161.4 241.6l7.9 7.9l-7.9 7.9l-7.9 -7.9zM1133 285.5l7.9 7.9l-7.9 7.9l-7.9 -7.9zM1148.7 285.5l7.9 7.9l-7.9 7.9l-7.9 -7.9zM1158.6 298.2l7.9 7.9l-7.9 7.9l-7.9 -7.9zM1145.7 313.7l7.9 7.9l-7.9 7.9l-7.9 -7.9zM1161.4 313.7l7.9 7.9l-7.9 7.9l-7.9 -7.9zM1098.8 326.5l7.9 7.9l-7.9 7.9l-7.9 -7.9zM1114.4 326.5l7.9 7.9l-7.9 7.9l-7.9 -7.9zM1129.9 329.6l7.9 7.9l-7.9 7.9l-7.9 -7.9zM1145.8 332.7l7.9 7.9l-7.9 7.9l-7.9 -7.9zM1161.4 335.8l7.9 7.9l-7.9 7.9l-7.9 -7.9zM1083 342.3l7.9 7.9l-7.9 7.9l-7.9 -7.9zM1098.6 345.3l7.9 7.9l-7.9 7.9l-7.9 -7.9zM1114.4 348.3l7.9 7.9l-7.9 7.9l-7.9 -7.9zM1129.9 348.3l7.9 7.9l-7.9 7.9l-7.9 -7.9zM1145.8 348.3l7.9 7.9l-7.9 7.9l-7.9 -7.9zM1161.4 351.6l7.9 7.9l-7.9 7.9l-7.9 -7.9zM1052.2 364.1l7.9 7.9l-7.9 7.9l-7.9 -7.9zM1068.1 364.1l7.9 7.9l-7.9 7.9l-7.9 -7.9zM1083.7 364.1l7.9 7.9l-7.9 7.9l-7.9 -7.9zM1099.5 367l7.9 7.9l-7.9 7.9l-7.9 -7.9zM1115.1 370.3l7.9 7.9l-7.9 7.9l-7.9 -7.9zM1130.8 370.3l7.9 7.9l-7.9 7.9l-7.9 -7.9zM1146.7 370.3l7.9 7.9l-7.9 7.9l-7.9 -7.9zM1161.4 376.9l7.9 7.9l-7.9 7.9l-7.9 -7.9zM1011.3 383.1l7.9 7.9l-7.9 7.9l-7.9 -7.9zM1027.2 383.1l7.9 7.9l-7.9 7.9l-7.9 -7.9zM1043 383.1l7.9 7.9l-7.9 7.9l-7.9 -7.9zM1058.6 386.2l7.9 7.9l-7.9 7.9l-7.9 -7.9zM1074.2 389.5l7.9 7.9l-7.9 7.9l-7.9 -7.9zM1089.9 392.4l7.9 7.9l-7.9 7.9l-7.9 -7.9zM1112.8 389.1l7.9 7.9l-7.9 7.9l-7.9 -7.9zM1128.4 392.4l7.9 7.9l-7.9 7.9l-7.9 -7.9zM1145.9 395.7l7.9 7.9l-7.9 7.9l-7.9 -7.9zM1161.4 395.7l7.9 7.9l-7.9 7.9l-7.9 -7.9zM1031.6 402.2l7.9 7.9l-7.9 7.9l-7.9 -7.9zM1047.3 402.2l7.9 7.9l-7.9 7.9l-7.9 -7.9zM1062.9 405.2l7.9 7.9l-7.9 7.9l-7.9 -7.9zM1077.6 411.3l7.9 7.9l-7.9 7.9l-7.9 -7.9zM1099.5 405.2l7.9 7.9l-7.9 7.9l-7.9 -7.9zM1115.1 405.2l7.9 7.9l-7.9 7.9l-7.9 -7.9zM1131.1 408.3l7.9 7.9l-7.9 7.9l-7.9 -7.9zM1145.9 414.5l7.9 7.9l-7.9 7.9l-7.9 -7.9zM1161.4 414.5l7.9 7.9l-7.9 7.9l-7.9 -7.9zM1090.2 420.8l7.9 7.9l-7.9 7.9l-7.9 -7.9zM1106.3 420.8l7.9 7.9l-7.9 7.9l-7.9 -7.9zM1121.7 424l7.9 7.9l-7.9 7.9l-7.9 -7.9zM1136.4 430.1l7.9 7.9l-7.9 7.9l-7.9 -7.9zM1151.9 433.4l7.9 7.9l-7.9 7.9l-7.9 -7.9zM1083.7 439.6l7.9 7.9l-7.9 7.9l-7.9 -7.9zM1099.5 442.7l7.9 7.9l-7.9 7.9l-7.9 -7.9zM1115.1 442.7l7.9 7.9l-7.9 7.9l-7.9 -7.9zM1133.1 446l7.9 7.9l-7.9 7.9l-7.9 -7.9zM1161.4 446l7.9 7.9l-7.9 7.9l-7.9 -7.9zM934.6 449.2l7.9 7.9l-7.9 7.9l-7.9 -7.9zM950.5 449.2l7.9 7.9l-7.9 7.9l-7.9 -7.9zM966.3 449.2l7.9 7.9l-7.9 7.9l-7.9 -7.9zM982.1 449.2l7.9 7.9l-7.9 7.9l-7.9 -7.9zM998 449.2l7.9 7.9l-7.9 7.9l-7.9 -7.9zM1013.7 449.2l7.9 7.9l-7.9 7.9l-7.9 -7.9zM1029.6 452.2l7.9 7.9l-7.9 7.9l-7.9 -7.9zM1045.2 455.1l7.9 7.9l-7.9 7.9l-7.9 -7.9zM1070.6 455.1l7.9 7.9l-7.9 7.9l-7.9 -7.9zM1086.6 455.1l7.9 7.9l-7.9 7.9l-7.9 -7.9zM1102.2 458.4l7.9 7.9l-7.9 7.9l-7.9 -7.9zM1118 458.4l7.9 7.9l-7.9 7.9l-7.9 -7.9zM1142.9 458.4l7.9 7.9l-7.9 7.9l-7.9 -7.9zM1158.7 461.7l7.9 7.9l-7.9 7.9l-7.9 -7.9zM1008.3 471.3l7.9 7.9l-7.9 7.9l-7.9 -7.9zM1024.2 471.3l7.9 7.9l-7.9 7.9l-7.9 -7.9zM1054.7 468.1l7.9 7.9l-7.9 7.9l-7.9 -7.9zM1069.4 474.3l7.9 7.9l-7.9 7.9l-7.9 -7.9zM1085.3 474.3l7.9 7.9l-7.9 7.9l-7.9 -7.9zM1100.9 477.2l7.9 7.9l-7.9 7.9l-7.9 -7.9zM1127.5 471.3l7.9 7.9l-7.9 7.9l-7.9 -7.9zM1143.1 474.3l7.9 7.9l-7.9 7.9l-7.9 -7.9zM1161.4 477.2l7.9 7.9l-7.9 7.9l-7.9 -7.9zM1037 480.5l7.9 7.9l-7.9 7.9l-7.9 -7.9zM1051.7 486.6l7.9 7.9l-7.9 7.9l-7.9 -7.9zM1066.5 493.1l7.9 7.9l-7.9 7.9l-7.9 -7.9zM1082.3 493.1l7.9 7.9l-7.9 7.9l-7.9 -7.9zM1098.1 493.1l7.9 7.9l-7.9 7.9l-7.9 -7.9zM1115.6 483.8l7.9 7.9l-7.9 7.9l-7.9 -7.9zM1130 489.9l7.9 7.9l-7.9 7.9l-7.9 -7.9zM1145.9 489.9l7.9 7.9l-7.9 7.9l-7.9 -7.9zM1161.4 493.1l7.9 7.9l-7.9 7.9l-7.9 -7.9zM1112.8 499.1l7.9 7.9l-7.9 7.9l-7.9 -7.9zM1127.1 505.3l7.9 7.9l-7.9 7.9l-7.9 -7.9zM1143.1 505.3l7.9 7.9l-7.9 7.9l-7.9 -7.9zM1159 508.6l7.9 7.9l-7.9 7.9l-7.9 -7.9zM1045.2 515.2l7.9 7.9l-7.9 7.9l-7.9 -7.9zM1059.6 521.2l7.9 7.9l-7.9 7.9l-7.9 -7.9zM1077.1 515.2l7.9 7.9l-7.9 7.9l-7.9 -7.9zM1093 515.2l7.9 7.9l-7.9 7.9l-7.9 -7.9zM1107.4 521.2l7.9 7.9l-7.9 7.9l-7.9 -7.9zM1123 521.2l7.9 7.9l-7.9 7.9l-7.9 -7.9zM1139 521.2l7.9 7.9l-7.9 7.9l-7.9 -7.9zM1161.4 524.5l7.9 7.9l-7.9 7.9l-7.9 -7.9zM1069.4 534l7.9 7.9l-7.9 7.9l-7.9 -7.9zM1085.3 534l7.9 7.9l-7.9 7.9l-7.9 -7.9zM1100.9 537.1l7.9 7.9l-7.9 7.9l-7.9 -7.9zM1113.6 546.6l7.9 7.9l-7.9 7.9l-7.9 -7.9zM1129.5 546.6l7.9 7.9l-7.9 7.9l-7.9 -7.9zM1148.8 534l7.9 7.9l-7.9 7.9l-7.9 -7.9zM1161.4 543.3l7.9 7.9l-7.9 7.9l-7.9 -7.9zM1144.3 552.8l7.9 7.9l-7.9 7.9l-7.9 -7.9zM1159 558.9l7.9 7.9l-7.9 7.9l-7.9 -7.9zM1089.9 562.2l7.9 7.9l-7.9 7.9l-7.9 -7.9zM1102.8 571.7l7.9 7.9l-7.9 7.9l-7.9 -7.9zM1118.5 571.7l7.9 7.9l-7.9 7.9l-7.9 -7.9zM1131.6 581l7.9 7.9l-7.9 7.9l-7.9 -7.9zM1143.9 568.7l7.9 7.9l-7.9 7.9l-7.9 -7.9zM1161.4 574.9l7.9 7.9l-7.9 7.9l-7.9 -7.9zM1147.2 584.3l7.9 7.9l-7.9 7.9l-7.9 -7.9zM1161.4 590.8l7.9 7.9l-7.9 7.9l-7.9 -7.9zM1088.6 606.4l7.9 7.9l-7.9 7.9l-7.9 -7.9zM1101.2 615.9l7.9 7.9l-7.9 7.9l-7.9 -7.9zM1117.2 615.9l7.9 7.9l-7.9 7.9l-7.9 -7.9zM1130 625.2l7.9 7.9l-7.9 7.9l-7.9 -7.9zM1144.3 606.4l7.9 7.9l-7.9 7.9l-7.9 -7.9zM1159 612.6l7.9 7.9l-7.9 7.9l-7.9 -7.9zM1145.9 625.2l7.9 7.9l-7.9 7.9l-7.9 -7.9zM1161.4 628.5l7.9 7.9l-7.9 7.9l-7.9 -7.9zM1148.6 641l7.9 7.9l-7.9 7.9l-7.9 -7.9zM1161.4 650.4l7.9 7.9l-7.9 7.9l-7.9 -7.9zM1146.7 675.5l7.9 7.9l-7.9 7.9l-7.9 -7.9zM1161.4 681.9l7.9 7.9l-7.9 7.9l-7.9 -7.9zM1146.7 710.1l7.9 7.9l-7.9 7.9l-7.9 -7.9zM1161.4 716.6l7.9 7.9l-7.9 7.9l-7.9 -7.9zM1130.2 722.8l7.9 7.9l-7.9 7.9l-7.9 -7.9zM1143.2 732.5l7.9 7.9l-7.9 7.9l-7.9 -7.9zM1158.4 735.5l7.9 7.9l-7.9 7.9l-7.9 -7.9zM1161.4 751l7.9 7.9l-7.9 7.9l-7.9 -7.9z" fill="#5ec0fc"/>
<polygon points="359.3,276 370.2,283.9 366.1,296.8 352.5,296.8 348.4,283.9" fill="#ff0000"/>
<polygon points="385.3,276.1 388,283.8 396.1,284 389.6,288.9 392,296.7 385.3,292.1 378.6,296.7 381,288.9 374.5,284 382.6,283.8" fill="#9e1c2c"/>
<polygon points="750.5,300.5 761.4,308.4 757.3,321.3 743.7,321.3 739.6,308.4" fill="#ff0000"/>
<polygon points="772.2,304.2 774.9,311.9 783,312.1 776.5,317 778.9,324.8 772.2,320.2 765.5,324.8 767.9,317 761.4,312.1 769.5,311.9" fill="#9e1c2c"/>
<polygon points="1139.1,238.5 1150,246.4 1145.9,259.3 1132.3,259.3 1128.2,246.4" fill="#ff0000"/>
<polygon points="1114.1,236.4 1116.8,244.1 1124.9,244.3 1118.4,249.2 1120.8,257 1114.1,252.4 1107.4,257 1109.8,249.2 1103.3,244.3 1111.4,244.1" fill="#9e1c2c"/>
<path d="M305.9 275.4L337.5 286.1M404.2 285.9L443.7 272M713.2 289.3L736.3 303.4M772.2 297.4L830.4 274.6M1127.1 202.1L1140 232.5M1066.8 240.1L1096 246.1" fill="none" stroke="#000" stroke-width="2.2" stroke-linecap="butt"/>
<text transform="translate(258 279.8) scale(0.967 1)" font-size="25.1" fill="#1a1a1a">94.3</text>
<text transform="translate(451.6 276.8) scale(0.967 1)" font-size="25.1" fill="#1a1a1a">94.3</text>
<text transform="translate(667 290.7) scale(0.967 1)" font-size="25.1" fill="#1a1a1a">93.5</text>
<text transform="translate(838.2 276.5) scale(0.967 1)" font-size="25.1" fill="#1a1a1a">93.4</text>
<text transform="translate(1095 194.2) scale(0.967 1)" font-size="25.1" fill="#1a1a1a">95.5</text>
<text transform="translate(1019.8 246.9) scale(0.967 1)" font-size="25.1" fill="#1a1a1a">95.6</text>
<polygon points="411.7,538.9 424.5,531.8 424.5,546" fill="#f77a7a" stroke="#3f5029" stroke-width="1.15" stroke-linejoin="miter"/>
<rect x="459.3" y="524" width="46.3" height="30" fill="#fff"/>
<text transform="translate(460.2 548.2) scale(0.957 1)" font-size="26.6" fill="#000">86.3</text>
<polygon points="801.6,576.6 814.4,569.5 814.4,583.7" fill="#f77a7a" stroke="#3f5029" stroke-width="1.15" stroke-linejoin="miter"/>
<rect x="848.8" y="561.9" width="46.3" height="30" fill="#fff"/>
<text transform="translate(849.7 586.1) scale(0.957 1)" font-size="26.6" fill="#000">85.1</text>
<polygon points="1190.9,478.2 1203.7,471.1 1203.7,485.3" fill="#f77a7a" stroke="#3f5029" stroke-width="1.15" stroke-linejoin="miter"/>
<rect x="1239" y="463.2" width="46.3" height="30" fill="#fff"/>
<text transform="translate(1239.9 487.4) scale(0.957 1)" font-size="26.6" fill="#000">88.2</text>
<path d="M150.5 106.5V1052.9" stroke="#000" stroke-width="3.4" fill="none"/>
<path d="M132.1 108.4H150.5" stroke="#000" stroke-width="3.8" fill="none"/>
<text transform="translate(113.7 121.3) scale(0.966 1)" font-size="41.5" text-anchor="end" fill="#000">100</text>
<path d="M132.1 422.6H150.5" stroke="#000" stroke-width="3.8" fill="none"/>
<text transform="translate(115.6 434.6) scale(0.966 1)" font-size="41.5" text-anchor="end" fill="#000">90</text>
<path d="M132.1 736.8H150.5" stroke="#000" stroke-width="3.8" fill="none"/>
<text transform="translate(115.6 749.7) scale(0.966 1)" font-size="41.5" text-anchor="end" fill="#000">80</text>
<path d="M132.1 1051H150.5" stroke="#000" stroke-width="3.8" fill="none"/>
<text transform="translate(115.6 1063.9) scale(0.966 1)" font-size="41.5" text-anchor="end" fill="#000">70</text>
<path d="M141.5 265.5H150.5" stroke="#000" stroke-width="3.8" fill="none"/>
<path d="M141.5 579.7H150.5" stroke="#000" stroke-width="3.8" fill="none"/>
<path d="M141.5 893.9H150.5" stroke="#000" stroke-width="3.8" fill="none"/>
<path d="M199 1051H1368" stroke="#000" stroke-width="3.8" fill="none"/>
<path d="M394 1051V1068.6" stroke="#000" stroke-width="3.8" fill="none"/>
<text transform="translate(393.8 1123.9) scale(0.974 1)" font-size="40.8" text-anchor="middle" fill="#000">Strand-All</text>
<path d="M784 1051V1068.6" stroke="#000" stroke-width="3.8" fill="none"/>
<text transform="translate(783.8 1123.9) scale(0.974 1)" font-size="40.8" text-anchor="middle" fill="#000">Strand-J</text>
<path d="M1174 1051V1068.6" stroke="#000" stroke-width="3.8" fill="none"/>
<text transform="translate(1173.8 1123.9) scale(0.974 1)" font-size="40.8" text-anchor="middle" fill="#000">Strand-N</text>
<text transform="translate(34 581) rotate(-90) scale(0.945 1)" font-size="51.5" text-anchor="middle" fill="#000">A+T%</text>
<rect x="1198.7" y="0.3" width="460" height="158" fill="#fff" stroke="#000" stroke-width="1.3"/>
<polygon points="1228.9,21.7 1241.7,14.6 1241.7,28.8" fill="#f77a7a" stroke="#3f5029" stroke-width="1.15" stroke-linejoin="miter"/>
<text x="1281" y="31.6" font-size="31" fill="#000">Average Value</text>
<path d="M1237 51.5l7.9 7.9l-7.9 7.9l-7.9 -7.9z" fill="#5ec0fc"/>
<text x="1279.6" y="70.8" font-size="31" fill="#5ec0fc">Other Fulgoromorpha species</text>
<polygon points="1237,86.5 1247.9,94.4 1243.8,107.3 1230.2,107.3 1226.1,94.4" fill="#ff0000"/>
<text x="1280.7" y="108.5" font-size="31" font-style="italic" fill="#ff0000">L. sichuanensis</text>
<polygon points="1238,125.8 1240.7,133.5 1248.8,133.7 1242.3,138.6 1244.7,146.4 1238,141.8 1231.3,146.4 1233.7,138.6 1227.2,133.7 1235.3,133.5" fill="#9e1c2c"/>
<text x="1280.7" y="146.8" font-size="31" font-style="italic" fill="#9e1c2c">L. perpunctata</text>
</svg></body></html>
